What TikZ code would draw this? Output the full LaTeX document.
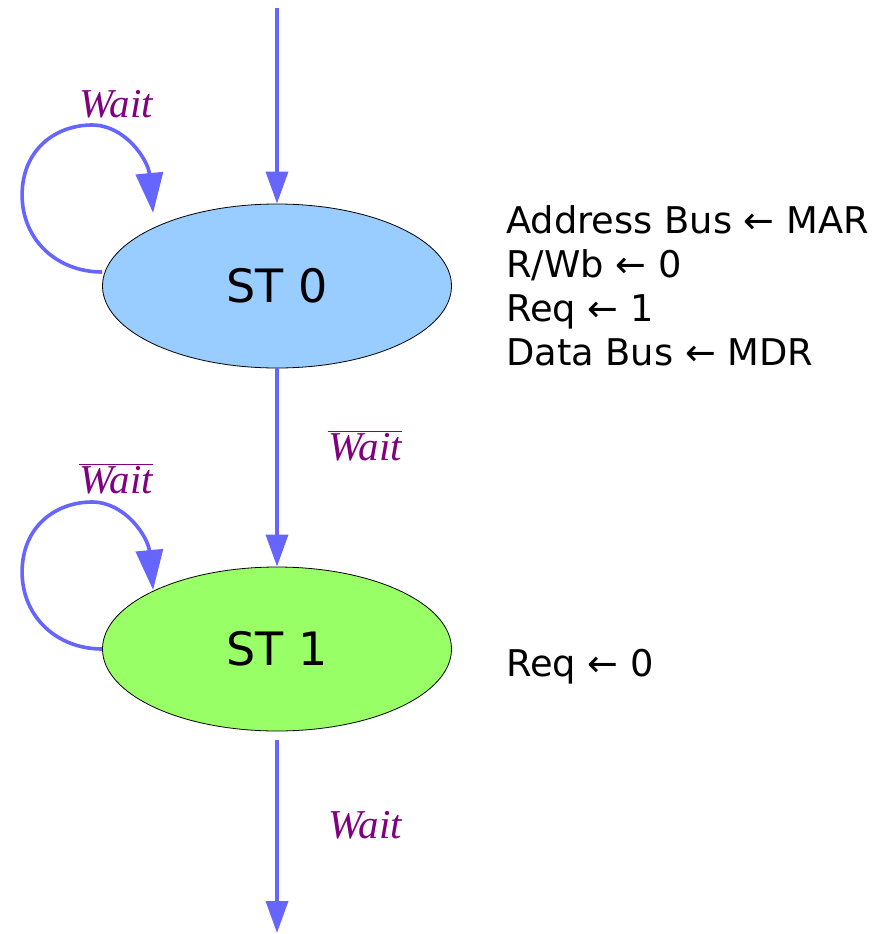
\documentclass[tikz,border=0pt]{standalone}
\usepackage{fontspec}
\setmainfont{DejaVu Sans}
\newfontfamily\condfont{Liberation Serif}
\usetikzlibrary{arrows.meta,shapes.geometric}

\definecolor{flowblue}{HTML}{6666FF}
\definecolor{condpurple}{HTML}{800080}
\definecolor{stblue}{HTML}{99CCFF}
\definecolor{stgreen}{HTML}{99FF66}

\begin{document}
\begin{tikzpicture}[x=1pt,y=-1pt,
  state/.style={ellipse,draw=black,line width=0.8pt,minimum width=349pt,
    minimum height=164pt,inner sep=0pt,font=\fontsize{46}{50}\selectfont},
  flow/.style={draw=flowblue,line width=3.6pt,-{Triangle[length=32pt,width=22pt]}},
  loopflow/.style={draw=flowblue,line width=3.6pt,-{Triangle[length=40pt,width=27pt]}},
  cond/.style={text=condpurple,inner sep=0pt,anchor=base,
    font=\condfont\itshape\fontsize{41}{44}\selectfont},
  act/.style={align=left,anchor=base west,inner sep=0pt,
    font=\fontsize{36.8}{44}\selectfont}]

  \useasboundingbox (0,0) rectangle (893,934);

  % states
  \node[state,fill=stblue]  (s0) at (277,286) {ST 0};
  \node[state,fill=stgreen] (s1) at (277,649) {ST 1};

  % entry and exit points
  \coordinate (entry) at (277,8);
  \coordinate (exit)  at (277,933);

  % transitions along the main path
  \draw[flow] (entry) -- (s0);
  \draw[flow] (s0) -- (s1);
  \draw[flow] ([yshift=-9pt]s1.south) -- (exit);

  % self loops
  \coordinate (l0) at ([yshift=14pt]s0.west);
  \coordinate (l1) at (s1.west);
  \foreach \s in {l0,l1}{
    \draw[loopflow] (\s)
      .. controls ([shift={(-45,0)}]\s) and ([shift={(-80,-32)}]\s) .. ([shift={(-80,-77)}]\s)
      .. controls ([shift={(-80,-122)}]\s) and ([shift={(-47,-147)}]\s) .. ([shift={(-10,-147)}]\s)
      .. controls ([shift={(23,-147)}]\s) and ([shift={(46,-112)}]\s) .. ([shift={(51,-59)}]\s);
  }

  % transition conditions
  \node[cond] (c0)  at (116,117) {Wait};
  \node[cond] (c01) at (365,460) {$\overline{\hbox{Wait}}$};
  \node[cond] (c1)  at (116,493) {$\overline{\hbox{Wait}}$};
  \node[cond] (c1x) at (365,838) {Wait};

  % state actions (base anchor sits on the last line)
  \node[act] (a0) at (506,365) {Address Bus ← MAR\\R/Wb ← 0\\Req ← 1\\Data Bus ← MDR};
  \node[act] (a1) at (506,676) {Req ← 0};
\end{tikzpicture}
\end{document}
